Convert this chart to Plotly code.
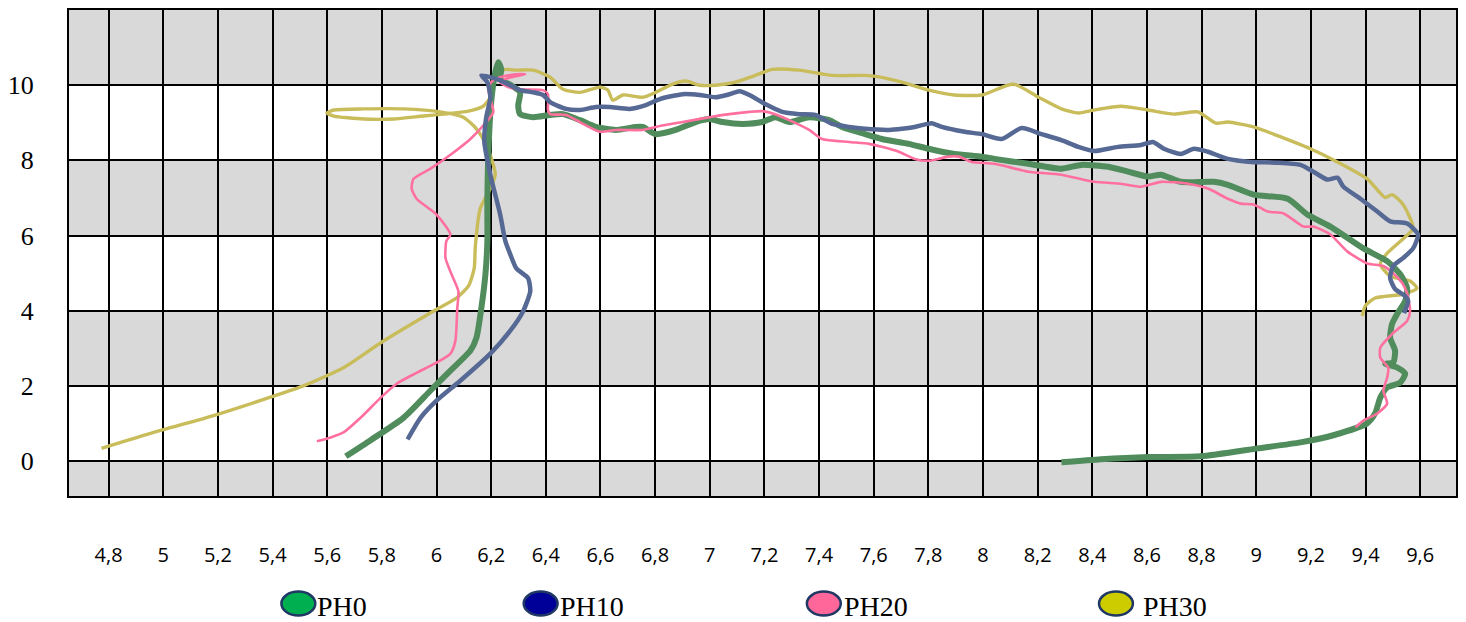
import plotly.graph_objects as go

# ---------------- data ----------------
ph0_x = [5.668, 5.759, 5.880, 5.978, 6.051, 6.124, 6.146, 6.164, 6.179, 6.186, 6.186, 6.190, 6.200, 6.215,
         6.226, 6.237, 6.233, 6.273, 6.306, 6.299, 6.306, 6.354, 6.416, 6.463, 6.525, 6.583, 6.656, 6.729,
         6.755, 6.802, 6.875, 6.948, 6.999, 7.047, 7.119, 7.192, 7.240, 7.291, 7.364, 7.437, 7.484, 7.568,
         7.630, 7.728, 7.801, 7.896, 7.995, 8.042, 8.166, 8.287, 8.360, 8.458, 8.531, 8.604, 8.651, 8.724,
         8.845, 8.896, 8.990, 9.115, 9.187, 9.271, 9.392, 9.479, 9.527, 9.552, 9.545, 9.516, 9.497, 9.490,
         9.508, 9.501, 9.472, 9.516, 9.545, 9.527, 9.479, 9.454, 9.435, 9.406, 9.282, 9.162, 9.005, 8.797,
         8.604, 8.432, 8.287]
ph0_y = [0.13, 0.56, 1.16, 1.88, 2.41, 2.94, 3.28, 4.07, 4.97, 5.85, 6.90, 8.23, 9.55, 10.34,
         10.61, 10.42, 10.16, 10.00, 9.81, 9.47, 9.23, 9.15, 9.21, 9.23, 9.07, 8.89, 8.81, 8.89,
         8.89, 8.70, 8.81, 9.02, 9.10, 9.02, 8.97, 9.02, 9.15, 9.02, 9.15, 9.07, 8.89, 8.70,
         8.57, 8.44, 8.31, 8.17, 8.10, 8.04, 7.91, 7.78, 7.88, 7.83, 7.70, 7.57, 7.62, 7.43,
         7.43, 7.35, 7.09, 6.98, 6.56, 6.24, 5.66, 5.32, 4.97, 4.60, 4.26, 3.92, 3.65, 3.28,
         2.94, 2.62, 2.59, 2.49, 2.33, 2.09, 1.96, 1.69, 1.27, 1.01, 0.69, 0.50, 0.34, 0.13,
         0.11, 0.05, -0.03]

ph10_x = [5.894, 5.942, 6.000, 6.087, 6.197, 6.270, 6.317, 6.343, 6.335, 6.292, 6.270, 6.252, 6.233, 6.197,
          6.175, 6.182, 6.197, 6.186, 6.164, 6.208, 6.233, 6.306, 6.354, 6.390, 6.416, 6.474, 6.525, 6.583,
          6.634, 6.707, 6.766, 6.817, 6.901, 6.963, 7.021, 7.072, 7.109, 7.145, 7.203, 7.265, 7.327, 7.386,
          7.448, 7.510, 7.568, 7.656, 7.703, 7.750, 7.812, 7.849, 7.933, 7.995, 8.068, 8.141, 8.214, 8.287,
          8.349, 8.407, 8.494, 8.578, 8.622, 8.662, 8.724, 8.772, 8.823, 8.896, 8.980, 9.078, 9.162, 9.209,
          9.260, 9.297, 9.319, 9.381, 9.443, 9.490, 9.552, 9.592, 9.574, 9.537, 9.501, 9.490, 9.508, 9.545,
          9.556, 9.541]
ph10_y = [0.58, 1.16, 1.61, 2.14, 2.86, 3.47, 3.99, 4.52, 4.87, 5.13, 5.50, 5.85, 6.56, 7.62,
          8.49, 9.15, 9.68, 10.08, 10.26, 10.19, 10.13, 9.87, 9.81, 9.74, 9.55, 9.37, 9.34, 9.42,
          9.42, 9.37, 9.47, 9.63, 9.76, 9.74, 9.68, 9.76, 9.84, 9.74, 9.50, 9.29, 9.23, 9.21,
          8.97, 8.89, 8.84, 8.81, 8.84, 8.89, 8.99, 8.89, 8.76, 8.70, 8.57, 8.86, 8.70, 8.54,
          8.36, 8.25, 8.36, 8.41, 8.49, 8.31, 8.17, 8.31, 8.23, 8.04, 7.96, 7.94, 7.88, 7.70,
          7.49, 7.54, 7.30, 6.98, 6.64, 6.38, 6.32, 6.03, 5.66, 5.40, 5.19, 4.87, 4.58, 4.39,
          4.26, 3.94]

ph20_x = [5.562, 5.613, 5.661, 5.723, 5.796, 5.854, 5.927, 6.000, 6.051, 6.069, 6.076, 6.080, 6.055, 6.033,
          6.036, 6.051, 6.000, 5.927, 5.909, 5.916, 5.978, 6.051, 6.124, 6.182, 6.208, 6.197, 6.190, 6.200,
          6.233, 6.292, 6.324, 6.262, 6.233, 6.262, 6.306, 6.390, 6.408, 6.408, 6.416, 6.474, 6.536, 6.598,
          6.656, 6.755, 6.802, 6.901, 6.999, 7.072, 7.145, 7.192, 7.240, 7.291, 7.364, 7.411, 7.510, 7.583,
          7.630, 7.692, 7.750, 7.801, 7.874, 7.911, 7.958, 8.042, 8.166, 8.287, 8.407, 8.505, 8.578, 8.651,
          8.750, 8.823, 8.896, 8.943, 8.990, 9.041, 9.100, 9.173, 9.209, 9.271, 9.333, 9.406, 9.465, 9.501,
          9.534, 9.552, 9.563, 9.552, 9.501, 9.454, 9.454, 9.483, 9.479, 9.465, 9.479, 9.443, 9.392, 9.363]
ph20_y = [0.53, 0.63, 0.77, 1.16, 1.69, 2.06, 2.35, 2.62, 2.86, 3.20, 4.07, 4.52, 4.97, 5.40,
          5.85, 6.03, 6.56, 6.98, 7.25, 7.51, 7.78, 8.15, 8.57, 9.02, 9.29, 9.63, 9.89, 10.08,
          10.21, 10.29, 10.29, 10.19, 10.08, 9.95, 9.89, 9.87, 9.76, 9.34, 9.23, 9.21, 8.97, 8.76,
          8.81, 8.81, 8.89, 9.02, 9.15, 9.23, 9.29, 9.31, 9.23, 9.07, 8.81, 8.57, 8.49, 8.44,
          8.36, 8.23, 8.04, 7.99, 8.10, 8.10, 7.96, 7.91, 7.70, 7.62, 7.43, 7.38, 7.30, 7.43,
          7.38, 7.25, 6.98, 6.85, 6.83, 6.64, 6.59, 6.24, 6.24, 6.03, 5.58, 5.26, 5.19, 5.00,
          4.74, 4.47, 3.99, 3.73, 3.41, 3.02, 2.75, 2.49, 2.22, 1.88, 1.53, 1.27, 1.08, 0.90]

ph30_x = [4.774, 4.968, 5.187, 5.387, 5.515, 5.661, 5.796, 5.996, 6.073, 6.117, 6.138, 6.142, 6.160, 6.197,
          6.215, 6.208, 6.182, 6.146, 6.098, 6.014, 5.880, 5.734, 5.624, 5.599, 5.624, 5.734, 5.843, 5.952,
          6.025, 6.117, 6.171, 6.197, 6.208, 6.219, 6.255, 6.292, 6.354, 6.416, 6.463, 6.525, 6.598, 6.627,
          6.645, 6.682, 6.755, 6.802, 6.864, 6.912, 6.963, 7.021, 7.094, 7.167, 7.229, 7.327, 7.448, 7.568,
          7.630, 7.703, 7.801, 7.896, 7.995, 8.112, 8.203, 8.287, 8.349, 8.407, 8.505, 8.604, 8.699, 8.786,
          8.852, 8.896, 8.990, 9.063, 9.198, 9.297, 9.406, 9.472, 9.497, 9.537, 9.574, 9.527, 9.479, 9.454,
          9.490, 9.563, 9.588, 9.537, 9.435, 9.399, 9.388]
ph30_y = [0.34, 0.77, 1.22, 1.69, 2.01, 2.49, 3.15, 4.02, 4.34, 4.66, 5.13, 5.71, 6.72, 7.25,
          7.62, 7.88, 8.41, 8.84, 9.15, 9.29, 9.37, 9.37, 9.34, 9.26, 9.18, 9.10, 9.10, 9.18,
          9.23, 9.31, 9.44, 9.68, 10.03, 10.34, 10.42, 10.40, 10.40, 10.21, 9.89, 9.81, 9.95, 9.87,
          9.60, 9.74, 9.68, 9.81, 10.03, 10.11, 10.00, 10.00, 10.08, 10.26, 10.42, 10.40, 10.26, 10.26,
          10.21, 10.08, 9.87, 9.74, 9.74, 10.03, 9.68, 9.37, 9.26, 9.34, 9.44, 9.34, 9.23, 9.29,
          8.99, 9.02, 8.89, 8.70, 8.31, 7.96, 7.51, 7.01, 7.09, 6.83, 6.19, 5.85, 5.53, 5.24,
          4.92, 4.79, 4.60, 4.44, 4.34, 4.13, 3.86]

series_names = ["PH0", "PH10", "PH20", "PH30"]
x_ticks = [4.8, 5.0, 5.2, 5.4, 5.6, 5.8, 6.0, 6.2, 6.4, 6.6, 6.8, 7.0, 7.2, 7.4, 7.6, 7.8, 8.0,
           8.2, 8.4, 8.6, 8.8, 9.0, 9.2, 9.4, 9.6]
x_tick_labels = ["4,8", "5", "5,2", "5,4", "5,6", "5,8", "6", "6,2", "6,4", "6,6", "6,8", "7", "7,2",
                 "7,4", "7,6", "7,8", "8", "8,2", "8,4", "8,6", "8,8", "9", "9,2", "9,4", "9,6"]
y_ticks = [0, 2, 4, 6, 8, 10]
y_tick_labels = ["0", "2", "4", "6", "8", "10"]

# ---------------- styles ----------------
line_colors = {"PH0": "rgb(80,140,92)", "PH10": "rgb(86,104,148)",
               "PH20": "rgb(255,112,158)", "PH30": "rgb(201,188,90)"}
line_widths = {"PH0": 6, "PH10": 4.5, "PH20": 2.6, "PH30": 3.4}
legend_fill = {"PH0": "#00b050", "PH10": "#000099", "PH20": "#ff6699", "PH30": "#cccc00"}

W, H = 1466, 622
L, R, T, B = 65, 10, 8, 126
PW, PH = W - L - R, H - T - B

fig = go.Figure()
data = {"PH0": (ph0_x, ph0_y), "PH10": (ph10_x, ph10_y),
        "PH20": (ph20_x, ph20_y), "PH30": (ph30_x, ph30_y)}
for name in ["PH30", "PH0", "PH20", "PH10"]:
    xs, ys = data[name]
    fig.add_trace(go.Scatter(x=xs, y=ys, mode="lines", name=name, showlegend=False,
                             line=dict(color=line_colors[name], width=line_widths[name],
                                       shape="spline", smoothing=0.6)))

# gray bands
shapes = []
for y0, y1 in [(10, 13), (6, 8), (2, 4), (-2, 0)]:
    shapes.append(dict(type="rect", xref="paper", yref="y", x0=0, x1=1, y0=y0, y1=y1,
                       fillcolor="#d9d9d9", line=dict(width=0), layer="below"))

# manual legend
def px2paper_x(px):
    return (px - L) / PW

def px2paper_y(py):
    return (H - B - py) / PH

legend_pos = {"PH0": (295, 312), "PH10": (538, 555), "PH20": (822, 840), "PH30": (1115, 1140)}
annotations = []
for name in series_names:
    cx, tx = legend_pos[name]
    shapes.append(dict(type="circle", xref="paper", yref="paper",
                       x0=px2paper_x(cx - 17), x1=px2paper_x(cx + 17),
                       y0=px2paper_y(616), y1=px2paper_y(592),
                       fillcolor=legend_fill[name], line=dict(color="#1f3864", width=2.5)))
    annotations.append(dict(xref="paper", yref="paper", x=px2paper_x(tx), y=px2paper_y(607),
                            xanchor="left", yanchor="middle", text=name, showarrow=False,
                            font=dict(family="Liberation Serif, Times New Roman, serif",
                                      size=28, color="black")))

fig.update_layout(
    width=W, height=H,
    margin=dict(l=L, r=R, t=T, b=B, pad=0),
    paper_bgcolor="white", plot_bgcolor="white",
    shapes=shapes, annotations=annotations,
    showlegend=False,
)
fig.update_xaxes(range=[4.655, 9.731], tickmode="array", tickvals=x_ticks, ticktext=x_tick_labels,
                 showgrid=True, gridcolor="black", gridwidth=2, zeroline=False,
                 showline=True, mirror=True, linecolor="black", linewidth=2,
                 ticks="outside", ticklen=40, tickcolor="rgba(0,0,0,0)",
                 tickfont=dict(family="Open Sans, Liberation Sans, sans-serif", size=20, color="black"))
fig.update_yaxes(range=[-0.926, 12], tickmode="array", tickvals=y_ticks, ticktext=y_tick_labels,
                 showgrid=True, gridcolor="black", gridwidth=2, zeroline=False,
                 showline=True, mirror=True, linecolor="black", linewidth=2,
                 ticks="outside", ticklen=28, tickcolor="rgba(0,0,0,0)",
                 tickfont=dict(family="Liberation Serif, Times New Roman, serif", size=26, color="black"))

fig.write_html("out.html")
